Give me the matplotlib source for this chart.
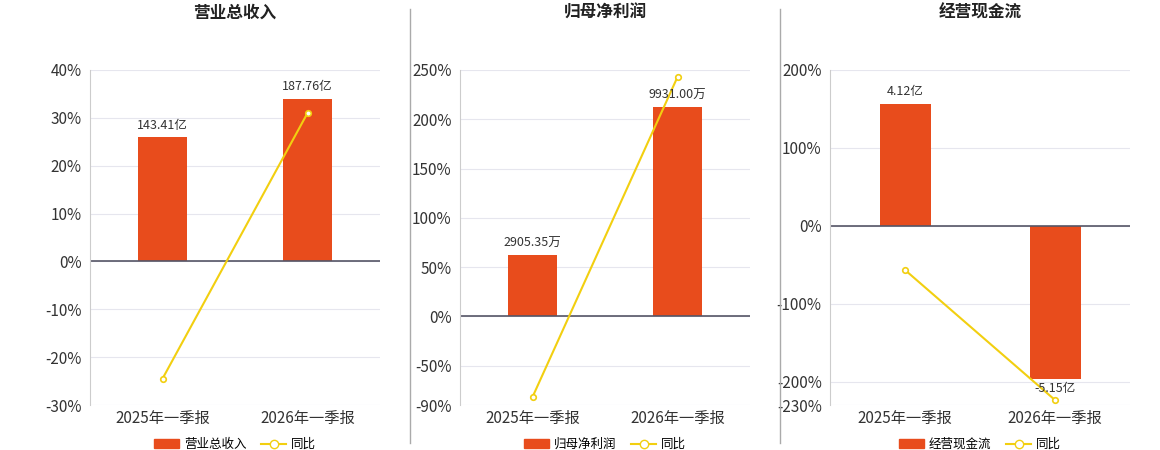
import matplotlib
matplotlib.use("Agg")
import matplotlib.pyplot as plt
from matplotlib.lines import Line2D
from matplotlib.patches import Patch

plt.rcParams['font.family'] = ['Noto Sans CJK SC', 'DejaVu Sans']

categories = ["2025年一季报", "2026年一季报"]
titles = ["营业总收入", "归母净利润", "经营现金流"]
bar_values = [[143.41, 187.76], [2905.35, 9931.00], [4.12, -5.15]]
bar_labels = [["143.41亿", "187.76亿"], ["2905.35万", "9931.00万"], ["4.12亿", "-5.15亿"]]
yoy = [[-24.5, 31.0], [-81.9, 242.9], [-56.7, -223.6]]
bar_scale = [34, 212, 196]
yticks = [[-30, -20, -10, 0, 10, 20, 30, 40],
          [-90, -50, 0, 50, 100, 150, 200, 250],
          [-230, -200, -100, 0, 100, 200]]
ylims = [(-30, 40), (-90, 250), (-230, 200)]

BAR = "#E84C1C"
LINE = "#F2CF10"
fig = plt.figure(figsize=(11.6, 4.5), dpi=100)
lefts = [90, 460, 830]
widths = [290, 290, 300]
for i in range(3):
    ax = fig.add_axes([lefts[i]/1160, 0.1, widths[i]/1160, 335/450])
    m = max(abs(v) for v in bar_values[i])
    h = [v / m * bar_scale[i] for v in bar_values[i]]
    ax.bar([0, 1], h, width=0.34, color=BAR, zorder=2)
    for x, hv, lab in zip([0, 1], h, bar_labels[i]):
        off = 2 if hv >= 0 else -2
        ax.annotate(lab, (x, hv), xytext=(0, 4 if hv >= 0 else -12), textcoords="offset points",
                    ha="center", va="bottom", fontsize=9, color="#333333", zorder=4)
    ax.plot([0, 1], yoy[i], color=LINE, lw=1.5, marker="o", ms=4,
            mfc="white", mec=LINE, mew=1.2, zorder=3)
    ax.set_xlim(-0.5, 1.5)
    ax.set_ylim(*ylims[i])
    ax.set_yticks(yticks[i])
    ax.set_yticklabels([f"{t}%" for t in yticks[i]], fontsize=11, color="#333333")
    ax.set_xticks([0, 1])
    ax.set_xticklabels(categories, fontsize=11, color="#333333")
    ax.tick_params(axis="y", length=0, pad=6)
    ax.tick_params(axis="x", length=0)
    ax.grid(axis="y", color="#E6E6EE", lw=0.8, zorder=0)
    ax.axhline(0, color="#555566", lw=1.2, zorder=2)
    for s in ["top", "right", "bottom"]:
        ax.spines[s].set_visible(False)
    ax.spines["left"].set_color("#CCCCCC")
    ax.set_title(titles[i], fontsize=12, fontweight="bold", pad=38, color="#222222")
    handles = [Patch(color=BAR), Line2D([], [], color=LINE, marker="o", mfc="white", mec=LINE, lw=1.5)]
    ax.legend(handles, [titles[i], "同比"], loc="upper center", bbox_to_anchor=(0.5, -0.065),
              ncol=2, frameon=False, fontsize=9, handlelength=2, columnspacing=1.2, handletextpad=0.4)

for x in [410, 780]:
    fig.add_artist(Line2D([x/1160, x/1160], [0.015, 0.98], color="#AAAAAA", lw=1))

fig.savefig("out.png", dpi=100)
